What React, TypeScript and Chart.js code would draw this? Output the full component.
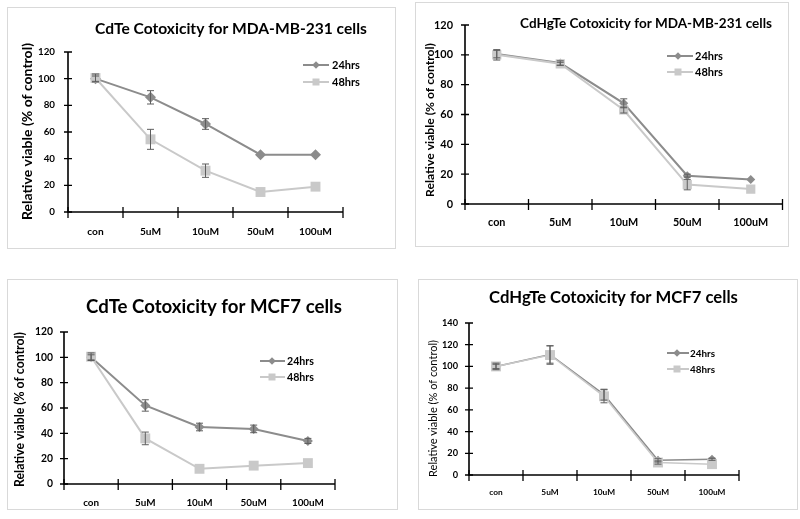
import React, { useEffect, useRef } from "react";
import { Chart, registerables } from "chart.js";
Chart.register(...registerables);

// ---------- data ----------
const categories = ["con", "5uM", "10uM", "50uM", "100uM"];
const seriesNames = ["24hrs", "48hrs"];
const yAxisLabel = "Relative viable (% of control)";

const titleCdteMda = "CdTe Cotoxicity for MDA-MB-231 cells";
const titleCdhgteMda = "CdHgTe Cotoxicity for MDA-MB-231 cells";
const titleCdteMcf = "CdTe Cotoxicity for MCF7 cells";
const titleCdhgteMcf = "CdHgTe Cotoxicity for MCF7 cells";

const cdteMda24 = [100, 86, 66, 43, 43];
const cdteMda24Err = [2, 5, 4, 0.5, 0.5];
const cdteMda48 = [100.5, 54.5, 31, 15, 19];
const cdteMda48Err = [3, 7.5, 5, 0.5, 0.5];

const cdhgteMda24 = [100.5, 94.5, 67.5, 19, 16.5];
const cdhgteMda24Err = [2.5, 1.5, 3, 1, 0.5];
const cdhgteMda48 = [100, 94, 63, 13, 10];
const cdhgteMda48Err = [3.5, 1, 2, 3.5, 0.5];

const cdteMcf24 = [100, 62, 45, 43.5, 34];
const cdteMcf24Err = [2, 4.5, 3, 3, 2];
const cdteMcf48 = [100.5, 36, 12, 14.5, 16.5];
const cdteMcf48Err = [3, 5, 0.5, 0.5, 0.5];

const cdhgteMcf24 = [100, 111, 74, 13.5, 14.5];
const cdhgteMcf24Err = [2, 8, 5, 1.5, 1];
const cdhgteMcf48 = [100, 110.5, 72.5, 11.5, 10];
const cdhgteMcf48Err = [3, 8.5, 6, 1.5, 0.5];

const yMaxMda = 120;
const yMaxMcfCdhgte = 140;
const yStep = 20;

// ---------- styles ----------
const FAMILY = "Lato, 'Liberation Sans', sans-serif";
const COLOR24 = "#8c8c8c";
const COLOR48 = "#c9c9c9";
const ERR_COLOR = "#5e5e5e";
const FRAME_COLOR = "#d9d9d9";

const measureCtx = document.createElement("canvas").getContext("2d") as CanvasRenderingContext2D;
function fitSize(text: string, weight: string, targetW: number) {
  measureCtx.font = `${weight} 100px ${FAMILY}`;
  return (100 * targetW) / measureCtx.measureText(text).width;
}

type PanelDef = {
  frame: number[]; // x,y,w,h absolute
  plot: number[]; // left, top, right, bottom absolute
  yMax: number;
  title: string;
  titleBox: number[]; // cx, cy, width
  yLab: number[]; // cx, cy, length
  yLabWeight: string;
  yTickW: number;
  yTickRight: number;
  xTickW: number;
  xTickCy: number;
  legend: { x0: number; x1: number; mx: number; tx: number; rows: number[]; textW: number };
  s24: number[]; e24: number[]; s48: number[]; e48: number[];
  r24: number; r48: number; lw: number;
};

const panels: PanelDef[] = [
  {
    frame: [7, 7, 389, 242], plot: [68, 52, 343, 212], yMax: yMaxMda,
    title: titleCdteMda, titleBox: [231, 29, 272], yLab: [27, 131.5, 177], yLabWeight: "bold",
    yTickW: 17, yTickRight: 55, xTickW: 33, xTickCy: 232,
    legend: { x0: 303, x1: 329, mx: 316, tx: 332, rows: [65, 82], textW: 28 },
    s24: cdteMda24, e24: cdteMda24Err, s48: cdteMda48, e48: cdteMda48Err, r24: 5.5, r48: 7, lw: 2,
  },
  {
    frame: [415, 2, 374, 245], plot: [465, 25, 787, 204], yMax: yMaxMda,
    title: titleCdhgteMda, titleBox: [646, 24, 252], yLab: [430, 120, 154], yLabWeight: "bold",
    yTickW: 19, yTickRight: 453, xTickW: 35, xTickCy: 223,
    legend: { x0: 667, x1: 693, mx: 678, tx: 695, rows: [56, 72], textW: 28 },
    s24: cdhgteMda24, e24: cdhgteMda24Err, s48: cdhgteMda48, e48: cdhgteMda48Err, r24: 4.5, r48: 6.5, lw: 2,
  },
  {
    frame: [7, 279, 391, 231], plot: [64, 332, 335, 484], yMax: yMaxMda,
    title: titleCdteMcf, titleBox: [214, 307, 256], yLab: [20, 409.5, 155], yLabWeight: "bold",
    yTickW: 18, yTickRight: 53, xTickW: 32, xTickCy: 503,
    legend: { x0: 260, x1: 285, mx: 272, tx: 287, rows: [361, 377], textW: 27 },
    s24: cdteMcf24, e24: cdteMcf24Err, s48: cdteMcf48, e48: cdteMcf48Err, r24: 5, r48: 7, lw: 2,
  },
  {
    frame: [418, 279, 380, 231], plot: [469, 323, 739, 475], yMax: yMaxMcfCdhgte,
    title: titleCdhgteMcf, titleBox: [613.5, 298, 249], yLab: [433, 408.5, 137], yLabWeight: "normal",
    yTickW: 16, yTickRight: 458, xTickW: 27, xTickCy: 492,
    legend: { x0: 667, x1: 689, mx: 677, tx: 690, rows: [353, 369], textW: 25 },
    s24: cdhgteMcf24, e24: cdhgteMcf24Err, s48: cdhgteMcf48, e48: cdhgteMcf48Err, r24: 4.5, r48: 7, lw: 1.5,
  },
];

function drawMarker(ctx: CanvasRenderingContext2D, kind: "diamond" | "square", x: number, y: number, r: number, color: string) {
  ctx.save();
  ctx.fillStyle = color;
  ctx.beginPath();
  if (kind === "diamond") {
    ctx.moveTo(x, y - r);
    ctx.lineTo(x + r, y);
    ctx.lineTo(x, y + r);
    ctx.lineTo(x - r, y);
    ctx.closePath();
  } else {
    ctx.rect(x - r, y - r, 2 * r, 2 * r);
  }
  ctx.fill();
  ctx.restore();
}

function makePlugin(p: PanelDef) {
  const [fx, fy, fw, fh] = p.frame;
  return {
    id: "deco",
    beforeDraw(chart: any) {
      const ctx = chart.ctx as CanvasRenderingContext2D;
      ctx.save();
      ctx.fillStyle = "#fff";
      ctx.fillRect(0, 0, fw, fh);
      ctx.strokeStyle = FRAME_COLOR;
      ctx.lineWidth = 1;
      ctx.strokeRect(0.5, 0.5, fw - 1, fh - 1);
      ctx.restore();
    },
    beforeDatasetsDraw(chart: any) {
      const ctx = chart.ctx as CanvasRenderingContext2D;
      const xs = chart.scales.x;
      const ys = chart.scales.y;
      const ca = chart.chartArea;
      ctx.save();
      ctx.strokeStyle = "#000";
      ctx.lineWidth = 1.6;
      ctx.beginPath();
      ctx.moveTo(ca.left, ys.getPixelForValue(p.yMax));
      ctx.lineTo(ca.left, ca.bottom);
      ctx.lineTo(ca.right, ca.bottom);
      ctx.stroke();
      ctx.lineWidth = 1.3;
      ctx.beginPath();
      for (let v = 0; v <= p.yMax; v += yStep) {
        const y = ys.getPixelForValue(v);
        ctx.moveTo(ca.left - 4, y);
        ctx.lineTo(ca.left + 4, y);
      }
      const c0 = xs.getPixelForValue(0);
      const step = xs.getPixelForValue(1) - c0;
      for (let k = 0; k <= categories.length; k++) {
        const x = c0 - step / 2 + k * step;
        ctx.moveTo(x, ca.bottom - 5);
        ctx.lineTo(x, ca.bottom + 6);
      }
      ctx.stroke();
      ctx.restore();
    },
    afterDatasetsDraw(chart: any) {
      const ctx = chart.ctx as CanvasRenderingContext2D;
      const ys = chart.scales.y;
      ctx.save();
      ctx.strokeStyle = ERR_COLOR;
      ctx.lineWidth = 1;
      chart.data.datasets.forEach((ds: any, di: number) => {
        const meta = chart.getDatasetMeta(di);
        ds.errors.forEach((e: number, j: number) => {
          if (e < 0.8) return;
          const x = meta.data[j].x;
          const v = ds.data[j];
          const yTop = ys.getPixelForValue(v + e);
          const yBot = ys.getPixelForValue(v - e);
          ctx.beginPath();
          ctx.moveTo(x, yTop);
          ctx.lineTo(x, yBot);
          ctx.moveTo(x - 3.5, yTop);
          ctx.lineTo(x + 3.5, yTop);
          ctx.moveTo(x - 3.5, yBot);
          ctx.lineTo(x + 3.5, yBot);
          ctx.stroke();
        });
      });
      ctx.restore();
    },
    afterDraw(chart: any) {
      const ctx = chart.ctx as CanvasRenderingContext2D;
      ctx.save();
      ctx.fillStyle = "#000";
      ctx.textBaseline = "middle";
      ctx.textAlign = "center";
      // title
      const ts = fitSize(p.title, "bold", p.titleBox[2]);
      ctx.font = `bold ${ts}px ${FAMILY}`;
      ctx.fillText(p.title, p.titleBox[0] - fx, p.titleBox[1] - fy);
      // y label
      const ls = fitSize(yAxisLabel, p.yLabWeight, p.yLab[2]);
      ctx.save();
      ctx.translate(p.yLab[0] - fx, p.yLab[1] - fy);
      ctx.rotate(-Math.PI / 2);
      ctx.font = `${p.yLabWeight} ${ls}px ${FAMILY}`;
      ctx.fillText(yAxisLabel, 0, 0);
      ctx.restore();
      // legend
      const lg = p.legend;
      const lgs = fitSize(seriesNames[0], "bold", lg.textW);
      const colors = [COLOR24, COLOR48];
      seriesNames.forEach((name, i) => {
        const y = lg.rows[i] - fy;
        ctx.strokeStyle = colors[i];
        ctx.lineWidth = 2;
        ctx.beginPath();
        ctx.moveTo(lg.x0 - fx, y);
        ctx.lineTo(lg.x1 - fx, y);
        ctx.stroke();
        drawMarker(ctx, i === 0 ? "diamond" : "square", lg.mx - fx, y, i === 0 ? 3.8 : 3.5, colors[i]);
        ctx.fillStyle = "#000";
        ctx.textAlign = "left";
        ctx.font = `bold ${lgs}px ${FAMILY}`;
        ctx.fillText(name, lg.tx - fx, y + 0.5);
      });
      ctx.restore();
    },
  };
}

function PanelChart({ p }: { p: PanelDef }) {
  const ref = useRef<HTMLCanvasElement>(null);
  useEffect(() => {
    const [fx, fy, fw, fh] = p.frame;
    const [pl, pt, pr, pb] = p.plot;
    const xsz = fitSize("100uM", "bold", p.xTickW);
    const ysz = fitSize(String(p.yMax), "bold", p.yTickW);
    const chart = new Chart(ref.current as HTMLCanvasElement, {
      type: "line",
      data: {
        labels: categories,
        datasets: [
          {
            label: seriesNames[1],
            data: p.s48,
            errors: p.e48,
            order: 0,
            borderColor: COLOR48,
            backgroundColor: COLOR48,
            borderWidth: p.lw,
            pointStyle: "rect",
            pointRadius: p.r48,
            pointBorderWidth: 0,
            pointBackgroundColor: COLOR48,
            tension: 0,
          } as any,
          {
            label: seriesNames[0],
            data: p.s24,
            errors: p.e24,
            order: 1,
            borderColor: COLOR24,
            backgroundColor: COLOR24,
            borderWidth: p.lw,
            pointStyle: "rectRot",
            pointRadius: p.r24,
            pointBorderWidth: 0,
            pointBackgroundColor: COLOR24,
            tension: 0,
          } as any,
        ],
      },
      options: {
        responsive: false,
        animation: false,
        devicePixelRatio: 1,
        layout: { padding: { left: 0, top: pt - fy, right: fx + fw - pr, bottom: 0 } },
        plugins: { legend: { display: false }, title: { display: false }, tooltip: { enabled: false } },
        scales: {
          x: {
            type: "category",
            offset: true,
            grid: { display: false, drawTicks: false },
            border: { display: false },
            ticks: {
              color: "#000",
              font: { family: FAMILY, weight: "bold", size: xsz },
              padding: p.xTickCy - pb - 0.6 * xsz,
              maxRotation: 0,
              autoSkip: false,
            },
            afterFit: (s: any) => {
              s.height = fy + fh - pb;
            },
          },
          y: {
            min: 0,
            max: p.yMax,
            grid: { display: false, drawTicks: false },
            border: { display: false },
            ticks: {
              stepSize: yStep,
              color: "#000",
              font: { family: FAMILY, weight: "bold", size: ysz },
              padding: pl - p.yTickRight,
            },
            afterFit: (s: any) => {
              s.width = pl - fx;
            },
          },
        },
      } as any,
      plugins: [makePlugin(p)],
    });
    return () => chart.destroy();
  }, [p]);
  const [fx, fy, fw, fh] = p.frame;
  return (
    <canvas
      ref={ref}
      width={fw}
      height={fh}
      style={{ position: "absolute", left: fx, top: fy, width: fw, height: fh }}
    />
  );
}

export default function App() {
  return (
    <div style={{ position: "fixed", left: 0, top: 0, width: 800, height: 519, background: "#fff", overflow: "hidden" }}>
      {panels.map((p, i) => (
        <PanelChart key={i} p={p} />
      ))}
    </div>
  );
}
